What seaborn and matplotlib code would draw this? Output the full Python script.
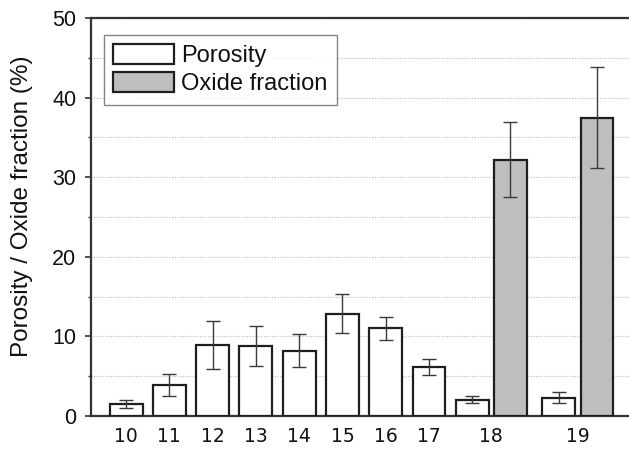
import numpy as np
import pandas as pd
import matplotlib
matplotlib.use("Agg")
import matplotlib.pyplot as plt
from matplotlib.ticker import MultipleLocator
import seaborn as sns

# Sample numbers and measured values (%)
samples = ["10", "11", "12", "13", "14", "15", "16", "17", "18", "19"]
porosity = [1.5, 3.85, 8.9, 8.8, 8.2, 12.85, 11.0, 6.15, 2.05, 2.3]
porosity_err = [0.45, 1.4, 3.0, 2.5, 2.1, 2.45, 1.45, 1.05, 0.45, 0.7]
oxide_samples = ["18", "19"]
oxide = [32.2, 37.5]
oxide_err = [4.7, 6.3]

sns.set_theme(style="white")
plt.rcParams["font.family"] = ["Liberation Sans", "DejaVu Sans"]

# Lay out bar positions: samples with an oxide bar take two slots
pair_offset = 0.88
bar_w = 0.76
por_pos, ox_pos, label_pos = [], [], []
pos = 0.0
for s in samples:
    por_pos.append(pos)
    if s in oxide_samples:
        ox_pos.append(pos + pair_offset)
        label_pos.append(pos + pair_offset / 2)
        pos += 2
    else:
        label_pos.append(pos)
        pos += 1

df_por = pd.DataFrame({"x": por_pos, "value": porosity})
df_ox = pd.DataFrame({"x": ox_pos, "value": oxide})

fig = plt.figure(figsize=(6.29, 4.49), dpi=100)
ax = fig.add_axes([91 / 629, 1 - 416 / 449, 538 / 629, 398 / 449])

edge = "#1e1e1e"
sns.barplot(data=df_por, x="x", y="value", native_scale=True, width=bar_w,
            color="white", edgecolor=edge, linewidth=1.6, saturation=1,
            errorbar=None, ax=ax, label="Porosity", zorder=3)
sns.barplot(data=df_ox, x="x", y="value", native_scale=True,
            width=bar_w / (ox_pos[1] - ox_pos[0]),
            color="#bebebe", edgecolor=edge, linewidth=1.6, saturation=1,
            errorbar=None, ax=ax, label="Oxide fraction", zorder=3)

ax.errorbar(por_pos, porosity, yerr=porosity_err, fmt="none", ecolor="#3a3a3a",
            elinewidth=1.0, capsize=5, capthick=1.0, zorder=4)
ax.errorbar(ox_pos, oxide, yerr=oxide_err, fmt="none", ecolor="#3a3a3a",
            elinewidth=1.0, capsize=5, capthick=1.0, zorder=4)

ax.set_xlim(-0.81, 11.62)
ax.set_ylim(0, 50)
ax.set_xticks(label_pos)
ax.set_xticklabels(samples, fontfamily="DejaVu Sans", fontsize=13.5, color="#111111")
ax.yaxis.set_major_locator(MultipleLocator(10))
ax.yaxis.set_minor_locator(MultipleLocator(5))
for t in ax.get_yticklabels():
    t.set_fontsize(15.5)
    t.set_color("#111111")
ax.tick_params(axis="x", length=0, pad=8)
ax.tick_params(axis="y", which="major", direction="out", length=4.5, width=1.2,
               color="#333333", left=True, pad=6)
ax.tick_params(axis="y", which="minor", direction="out", length=2.5, width=1.0,
               color="#333333", left=True)

ax.grid(True, axis="y", which="both", linestyle=(0, (1, 1.5)), color="#bbbbbb",
        linewidth=0.8, zorder=0)
ax.set_axisbelow(True)

for side in ["left", "bottom", "top"]:
    ax.spines[side].set_visible(True)
    ax.spines[side].set_color("#333333")
    ax.spines[side].set_linewidth(1.6)
ax.spines["right"].set_visible(False)

ax.set_xlabel("")
ax.set_ylabel("Porosity / Oxide fraction (%)", fontsize=17.5, color="#111111")
ax.yaxis.set_label_coords(-0.108, 0.526)

leg = ax.legend(loc="upper left", bbox_to_anchor=(13 / 538, 1 - 17 / 398),
                borderaxespad=0, fontsize=17, frameon=True, fancybox=False,
                handlelength=2.55, handleheight=0.9, labelspacing=0.2,
                handletextpad=0.3, borderpad=0.4)
leg.get_frame().set_edgecolor("#666666")
leg.get_frame().set_linewidth(1.0)
for t in leg.get_texts():
    t.set_color("#111111")

fig.savefig("out.png", dpi=100)
